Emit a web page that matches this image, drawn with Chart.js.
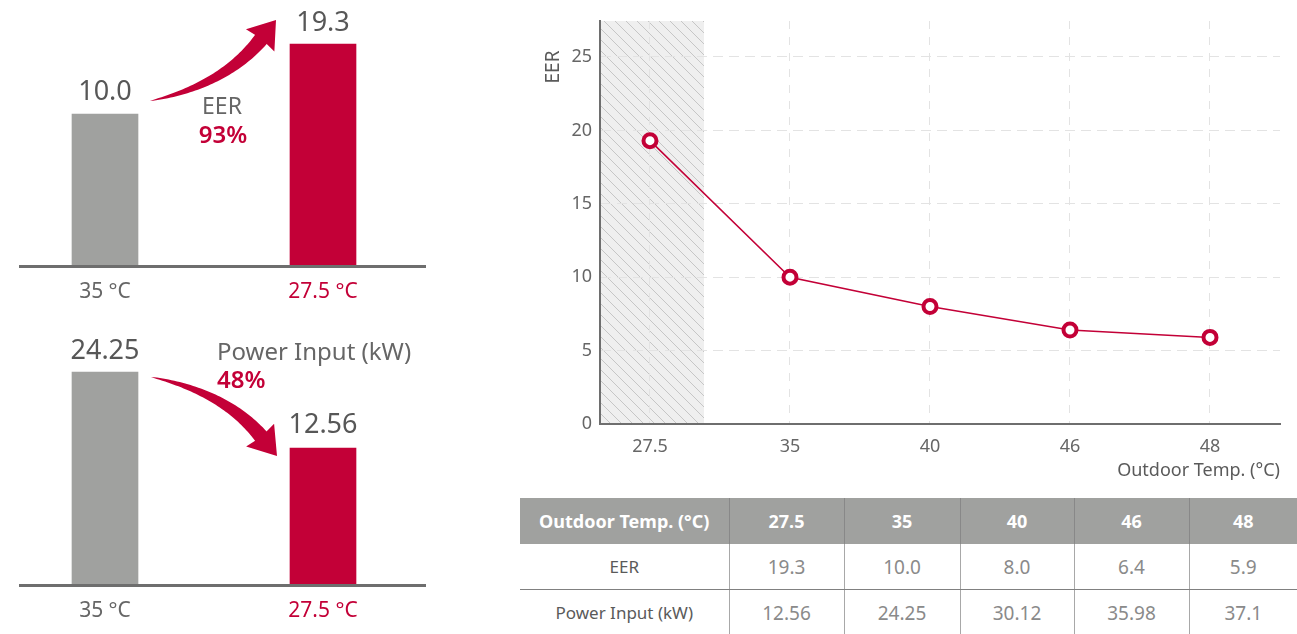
<!DOCTYPE html>
<html>
<head>
<meta charset="utf-8">
<script src="https://cdn.jsdelivr.net/npm/chart.js@4.4.1/dist/chart.umd.min.js"></script>
<style>
  html, body { margin:0; padding:0; background:#fff; width:1297px; height:634px; overflow:hidden; font-family:"Noto Sans", "Open Sans", sans-serif; }
  canvas { position:absolute; display:block; }
  #eerCompare { left:-4px; top:0; }
  #powerCompare { left:-4px; top:320px; }
  #eerLine { left:500px; top:0; }
  #dataTable { position:absolute; left:520px; top:498px; width:777px; border-collapse:collapse; table-layout:fixed; font-family:"Noto Sans", sans-serif; }
  #dataTable th { background:#a0a19f; color:#fff; font-weight:700; font-size:18px; height:46px; padding:0; text-align:center; border-left:1px solid #888; }
  #dataTable th:first-child { border-left:none; font-size:18px; }
  #dataTable td { height:45px; padding:0; text-align:center; color:#8a8a8a; font-size:19px; border-left:1px solid #a8a8a8; }
  #dataTable td:first-child { border-left:none; color:#5a5a5a; font-size:17px; }
  #dataTable tr.sep td { border-bottom:1px solid #808080; }
</style>
</head>
<body>
<canvas id="eerCompare" width="436" height="310"></canvas>
<canvas id="powerCompare" width="436" height="314"></canvas>
<canvas id="eerLine" width="797" height="490"></canvas>
<table id="dataTable"></table>
<script>
// ---------- data ----------
const compareLabels = ['35 °C', '27.5 °C'];
const eerCompare = [10.0, 19.3];
const powerCompare = [24.25, 12.56];
const eerCaption = 'EER';
const eerChange = '93%';
const powerCaption = 'Power Input (kW)';
const powerChange = '48%';

const outdoorTemps = ['27.5', '35', '40', '46', '48'];
const eerValues = [19.3, 10.0, 8.0, 6.4, 5.9];
const powerValues = [12.56, 24.25, 30.12, 35.98, 37.1];
const eerTicks = [0, 5, 10, 15, 20, 25];
const tableHeader = 'Outdoor Temp. (°C)';
const rowNames = ['EER', 'Power Input (kW)'];
const xTitle = 'Outdoor Temp. (°C)';
const yTitle = 'EER';

// ---------- styles ----------
const GRAY = '#a0a19f';
const RED = '#c30037';
const FONT = '"Noto Sans", "Open Sans", sans-serif';

// ---------- plugins ----------
const valueLabels = {
  id: 'valueLabels',
  afterDatasetsDraw(chart, args, o) {
    const ctx = chart.ctx;
    const meta = chart.getDatasetMeta(0);
    const data = chart.data.datasets[0].data;
    ctx.save();
    ctx.font = `${o.size}px ${FONT}`;
    ctx.fillStyle = o.color;
    ctx.textAlign = 'center';
    ctx.textBaseline = 'alphabetic';
    meta.data.forEach((bar, i) => {
      ctx.fillText(data[i].toFixed(o.decimals), bar.x, bar.y - o.gap[i]);
    });
    ctx.restore();
  }
};

function drawArrow(ctx, P0, C, H, T, shaftW, headHalf) {
  const N = 50, left = [], right = [];
  for (let i = 0; i <= N; i++) {
    const t = i / N, mt = 1 - t;
    const x = mt * mt * P0[0] + 2 * mt * t * C[0] + t * t * H[0];
    const y = mt * mt * P0[1] + 2 * mt * t * C[1] + t * t * H[1];
    let dx = 2 * mt * (C[0] - P0[0]) + 2 * t * (H[0] - C[0]);
    let dy = 2 * mt * (C[1] - P0[1]) + 2 * t * (H[1] - C[1]);
    const L = Math.hypot(dx, dy); dx /= L; dy /= L;
    const w = shaftW / 2 * Math.pow(t, 0.75);
    left.push([x - dy * w, y + dx * w]);
    right.push([x + dy * w, y - dx * w]);
  }
  ctx.beginPath();
  ctx.moveTo(left[0][0], left[0][1]);
  left.forEach(p => ctx.lineTo(p[0], p[1]));
  right.reverse().forEach(p => ctx.lineTo(p[0], p[1]));
  ctx.closePath();
  ctx.fill();
  let dx = T[0] - H[0], dy = T[1] - H[1];
  const L = Math.hypot(dx, dy); dx /= L; dy /= L;
  ctx.beginPath();
  ctx.moveTo(H[0] - dy * headHalf - dx * 3, H[1] + dx * headHalf - dy * 3);
  ctx.lineTo(T[0], T[1]);
  ctx.lineTo(H[0] + dy * headHalf - dx * 3, H[1] - dx * headHalf - dy * 3);
  ctx.lineTo(H[0] - dx * 1, H[1] - dy * 1);
  ctx.closePath();
  ctx.fill();
}

const compareDecor = {
  id: 'compareDecor',
  afterDatasetsDraw(chart, args, o) {
    const ctx = chart.ctx;
    const bars = chart.getDatasetMeta(0).data;
    const b0 = bars[0], b1 = bars[1];
    const area = chart.chartArea;
    ctx.save();
    // baseline
    ctx.strokeStyle = '#6e6e6e';
    ctx.lineWidth = 3;
    ctx.beginPath();
    ctx.moveTo(o.lineFrom, area.bottom + 1.5);
    ctx.lineTo(o.lineTo, area.bottom + 1.5);
    ctx.stroke();
    // arrow
    ctx.fillStyle = RED;
    const a = o.arrow;
    drawArrow(ctx,
      [b0.x + a.tail[0], b0.y + a.tail[1]],
      [b0.x + a.ctrl[0], b0.y + a.ctrl[1]],
      [b1.x + a.head[0], b1.y + a.head[1]],
      [b1.x + a.tip[0], b1.y + a.tip[1]],
      a.shaft, a.headHalf);
    // captions
    o.texts.forEach(t => {
      ctx.font = `${t.weight} ${t.size}px ${FONT}`;
      ctx.fillStyle = t.color;
      ctx.textAlign = t.align;
      ctx.textBaseline = 'alphabetic';
      ctx.fillText(t.text, t.x, t.y);
    });
    ctx.restore();
  }
};

function compareChart(id, values, yMin, yMax, axisHeight, decimals, gaps, decor) {
  return new Chart(document.getElementById(id), {
    type: 'bar',
    data: {
      labels: compareLabels,
      datasets: [{ data: values, base: yMin, backgroundColor: [GRAY, RED], barThickness: 66, borderWidth: 0 }]
    },
    options: {
      responsive: false,
      animation: false,
      layout: { padding: { left: 0, right: 0, top: 0, bottom: 0 } },
      plugins: {
        legend: { display: false },
        tooltip: { enabled: false },
        valueLabels: { size: 27, color: '#575757', decimals: decimals, gap: gaps },
        compareDecor: decor
      },
      scales: {
        x: {
          grid: { display: false, drawTicks: false },
          border: { display: false },
          ticks: {
            padding: 14,
            font: { family: FONT, size: 21 },
            color: (c) => c.index === 1 ? RED : '#666'
          },
          afterFit: (s) => { s.height = axisHeight; }
        },
        y: { display: false, min: yMin, max: yMax }
      }
    },
    plugins: [valueLabels, compareDecor]
  });
}

compareChart('eerCompare', eerCompare, -10.06, 25.15, 45, 1, [14, 13], {
  lineFrom: 23, lineTo: 430,
  arrow: { tail: [45, -13], ctrl: [120, -29], head: [-61, -6], tip: [-47, -24], shaft: 15, headHalf: 18 },
  texts: [
    { text: eerCaption, x: 226, y: 114, size: 23, weight: 400, color: '#666', align: 'center' },
    { text: eerChange, x: 227, y: 143, size: 24, weight: 600, color: RED, align: 'center' }
  ]
});

compareChart('powerCompare', powerCompare, -8.36, 32.25, 50, 2, [13, 15], {
  lineFrom: 23, lineTo: 430,
  arrow: { tail: [46, 5], ctrl: [120, 20], head: [-61, -10.5], tip: [-46, 8], shaft: 15, headHalf: 18 },
  texts: [
    { text: powerCaption, x: 221, y: 40, size: 24, weight: 400, color: '#666', align: 'left' },
    { text: powerChange, x: 221, y: 68, size: 24, weight: 600, color: RED, align: 'left' }
  ]
});

// ---------- line chart ----------
const lineDecor = {
  id: 'lineDecor',
  beforeDraw(chart, args, o) {
    const ctx = chart.ctx, a = chart.chartArea;
    const xs = chart.scales.x;
    const x2 = xs.getPixelForValue(o.shadeTo);
    ctx.save();
    ctx.fillStyle = '#efefef';
    ctx.fillRect(a.left, a.top, x2 - a.left, a.bottom - a.top);
    ctx.beginPath();
    ctx.rect(a.left, a.top, x2 - a.left, a.bottom - a.top);
    ctx.clip();
    ctx.strokeStyle = '#c6c6c6';
    ctx.lineWidth = 1;
    const h = a.bottom - a.top;
    for (let s = a.left - h; s < x2 + 10; s += 11) {
      ctx.beginPath();
      ctx.moveTo(s, a.top);
      ctx.lineTo(s + h, a.bottom);
      ctx.stroke();
    }
    ctx.restore();
  },
  afterDraw(chart, args, o) {
    const ctx = chart.ctx, a = chart.chartArea;
    ctx.save();
    ctx.fillStyle = '#5a5a5a';
    ctx.font = `18px ${FONT}`;
    ctx.textAlign = 'right';
    ctx.textBaseline = 'alphabetic';
    ctx.fillText(xTitle, a.right, 476);
    ctx.translate(54, 67);
    ctx.rotate(-Math.PI / 2);
    ctx.font = `19px ${FONT}`;
    ctx.textAlign = 'center';
    ctx.textBaseline = 'middle';
    ctx.fillText(yTitle, 0, 0);
    ctx.restore();
  }
};

new Chart(document.getElementById('eerLine'), {
  type: 'line',
  data: {
    datasets: [{
      label: yTitle,
      data: eerValues.map((v, i) => ({ x: i, y: v })),
      borderColor: RED,
      borderWidth: 1.5,
      pointRadius: 6.5,
      pointBorderWidth: 4,
      pointBackgroundColor: '#fff',
      pointBorderColor: RED,
      tension: 0
    }]
  },
  options: {
    responsive: false,
    animation: false,
    layout: { padding: { left: 0, right: 17, top: 21, bottom: 0 } },
    plugins: {
      legend: { display: false },
      tooltip: { enabled: false },
      lineDecor: { shadeTo: 0.386 }
    },
    scales: {
      x: {
        type: 'linear',
        min: -0.357,
        max: 4.5,
        afterBuildTicks: (s) => { s.ticks = outdoorTemps.map((_, i) => ({ value: i })); },
        afterFit: (s) => { s.height = 66; },
        ticks: {
          padding: 12,
          font: { family: FONT, size: 18 },
          color: '#666',
          callback: (v) => outdoorTemps[v]
        },
        grid: { color: '#e3e3e3', lineWidth: 1, drawTicks: false },
        border: { color: '#6e6e6e', width: 2, dash: [8, 8] }
      },
      y: {
        min: 0,
        max: 27.45,
        afterBuildTicks: (s) => { s.ticks = eerTicks.map(v => ({ value: v })); },
        afterFit: (s) => { s.width = 100; },
        ticks: {
          padding: 8,
          font: { family: FONT, size: 18 },
          color: '#666'
        },
        grid: { color: '#e3e3e3', lineWidth: 1, drawTicks: false },
        border: { color: '#6e6e6e', width: 2, dash: [10, 6] }
      }
    }
  },
  plugins: [lineDecor]
});

// ---------- table ----------
const table = document.getElementById('dataTable');
const widths = [209, 115, 116, 114, 115, 108];
let html = '<colgroup>' + widths.map(w => `<col style="width:${w}px">`).join('') + '</colgroup>';
html += '<thead><tr><th>' + tableHeader + '</th>' + outdoorTemps.map(t => `<th>${t}</th>`).join('') + '</tr></thead>';
html += '<tbody>';
html += '<tr class="sep"><td>' + rowNames[0] + '</td>' + eerValues.map(v => `<td>${v.toFixed(1)}</td>`).join('') + '</tr>';
html += '<tr><td>' + rowNames[1] + '</td>' + powerValues.map(v => `<td>${v}</td>`).join('') + '</tr>';
html += '</tbody>';
table.innerHTML = html;
</script>
</body>
</html>
